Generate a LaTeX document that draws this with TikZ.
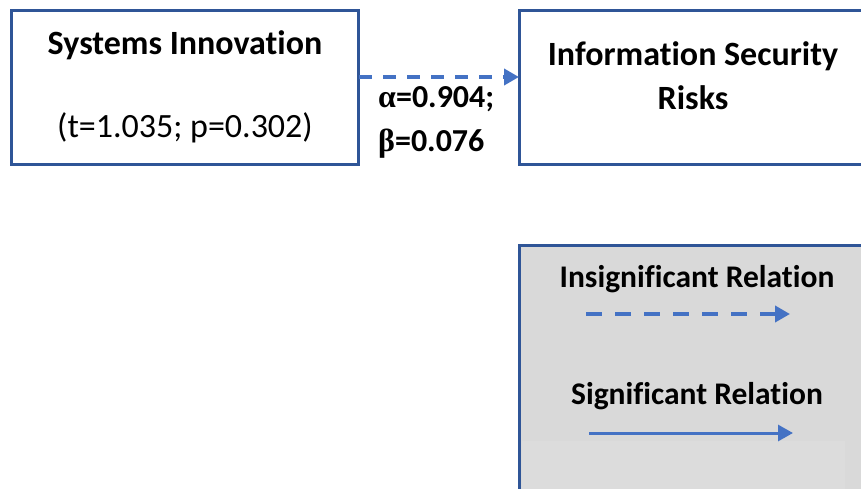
\documentclass[tikz,border=0pt]{standalone}
\usepackage{fontspec}
\setmainfont{Carlito}[Ligatures={NoCommon}]
\newfontfamily\greekbold{Liberation Serif}[BoldFont={* Bold}]
\usetikzlibrary{arrows.meta}
\definecolor{boxblue}{HTML}{2F5597}
\definecolor{arrowblue}{HTML}{4472C4}
\definecolor{legendgray}{HTML}{D9D9D9}
\definecolor{legendlow}{HTML}{DCDCDC}
\begin{document}
\begin{tikzpicture}[x=1pt,y=-1pt,
  varbox/.style={draw=boxblue,line width=3pt,fill=white},
  boldtext/.style={font=\fontsize{34}{40}\selectfont\bfseries,align=center,inner sep=0pt},
  legtext/.style={font=\fontsize{31.5}{38}\selectfont\bfseries,inner sep=0pt},
  plaintext/.style={font=\fontsize{34}{40}\selectfont,inner sep=0pt},
  rel/.style={draw=arrowblue,line width=3pt,-{Triangle[length=15pt,width=16pt]}},
  insig/.style={rel,line width=4pt,dash pattern=on 13pt off 11pt},
  insigkey/.style={rel,line width=4pt,dash pattern=on 16pt off 13pt}]
\useasboundingbox (0,0) rectangle (861,489);
% legend panel
\path[fill=legendgray] (519,245) rectangle (870,500);
\path[fill=legendlow] (522,441) rectangle (845,500);
\draw[boxblue,line width=3pt] (519,500) -- (519,245) -- (870,245);
% variable boxes
\draw[varbox] (11,11) rectangle (358,165);
\coordinate (siE) at (359,77);
\draw[varbox] (519,11) rectangle (870,165);
\coordinate (isW) at (519,77);
\node[boldtext] (si) at (185,45) {Systems Innovation};
\node[plaintext] (sistat) at (185,128) {(t=1.035; p=0.302)};
\node[boldtext] (isr) at (693,76) {Information Security\\[4pt]Risks};
% relation arrow
\draw[insig] (siE) -- (isW);
\node[font=\fontsize{32}{38}\selectfont\bfseries,inner sep=0pt,anchor=west,align=left] (ab) at (378,122)
  {{\greekbold α}=0.904;\\[6pt]{\greekbold β}=0.076};
% legend
\node[legtext] (lg1) at (697,279) {Insignificant Relation};
\coordinate (d1) at (586,314);
\coordinate (d2) at (790,314);
\draw[insigkey] (d1) -- (d2);
\node[legtext] (lg2) at (697,396) {Significant Relation};
\coordinate (s1) at (589,433);
\coordinate (s2) at (793,433);
\draw[rel] (s1) -- (s2);
\end{tikzpicture}
\end{document}
